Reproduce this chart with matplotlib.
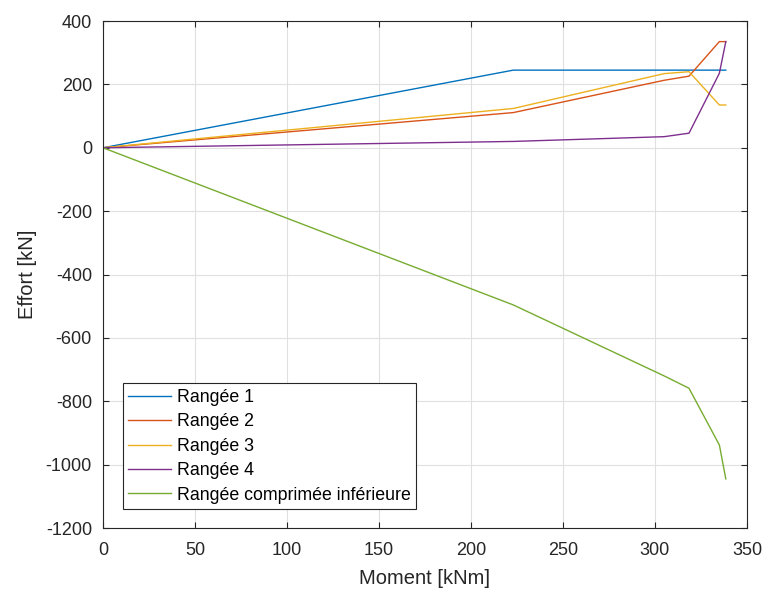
import matplotlib.pyplot as plt

plt.rcParams['font.family'] = ['Liberation Sans', 'DejaVu Sans']
plt.rcParams['axes.unicode_minus'] = False

# moments (kNm) where the curves break
moment = [0, 223, 305, 318.5, 335, 338.5]

rangee_1 = [0, 245, 245, 245, 245, 245]
rangee_2 = [0, 111, 213, 226, 335, 335]
rangee_3 = [0, 124, 234, 240, 135, 135]
rangee_4 = [0, 20, 35, 46, 235, 335]
rangee_comp = [0, -496, -720, -759, -938, -1045]

labels = ["Rangée 1", "Rangée 2", "Rangée 3", "Rangée 4",
          "Rangée comprimée inférieure"]
colors = ["#0072BD", "#D95319", "#EDB120", "#7E2F8E", "#77AC30"]

fig = plt.figure(figsize=(7.64, 5.92), dpi=100)
ax = fig.add_axes([0.1348, 0.1081, 0.8429, 0.8564])

for ys, lab, c in zip([rangee_1, rangee_2, rangee_3, rangee_4, rangee_comp], labels, colors):
    ax.plot(moment, ys, color=c, lw=1.0, label=lab)

ax.set_xlim(0, 350)
ax.set_ylim(-1200, 400)
ax.set_xticks(range(0, 351, 50))
ax.set_yticks(range(-1200, 401, 200))
ax.grid(True, color="#e0e0e0", lw=0.8)
ax.set_axisbelow(True)
ax.tick_params(direction="in", top=True, right=True, labelsize=13,
               colors="#262626", length=4.5)
ax.tick_params(axis="x", pad=10)
ax.tick_params(axis="y", pad=8)
for sp in ax.spines.values():
    sp.set_color("#262626")
    sp.set_linewidth(0.8)

ax.set_xlabel("Moment [kNm]", fontsize=14.5, color="#262626", labelpad=7)
ax.set_ylabel("Effort [kN]", fontsize=14.5, color="#262626", labelpad=6)

leg = ax.legend(loc="lower left", bbox_to_anchor=(0.0306, 0.0375),
                borderaxespad=0, fontsize=12.8, handlelength=2.4,
                fancybox=False, framealpha=1, edgecolor="#262626",
                labelspacing=0.42, handletextpad=0.35, borderpad=0.3)
leg.get_frame().set_linewidth(0.8)

fig.savefig("out.png", dpi=100)
